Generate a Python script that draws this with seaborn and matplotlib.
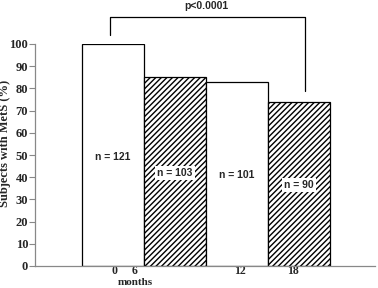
import matplotlib
matplotlib.use('Agg')
import matplotlib.pyplot as plt
import seaborn as sns
import pandas as pd

# data
months = ['0', '6', '12', '18']
pct = [100, 85, 83, 74]
n_labels = ['n = 121', 'n = 103', 'n = 101', 'n = 90']
n_label_y = [49, 42, 41, 36.5]
hatched = [False, True, False, True]
tick_pos = [0.02, 0.35, 2.05, 2.9]

df = pd.DataFrame({'month': months, 'pct': pct})

sns.set_style('white')
fig = plt.figure(figsize=(3.78, 2.88), dpi=100)
ax = fig.add_axes([35 / 378, 22 / 288, 340 / 378, 222 / 288])

sns.barplot(data=df, x='month', y='pct', order=months, width=1.0,
            color='white', edgecolor='black', linewidth=0.9, ax=ax)
for bar, h in zip(ax.patches, hatched):
    bar.set_facecolor('white')
    if h:
        bar.set_hatch('//////')

for i, (lab, y, h) in enumerate(zip(n_labels, n_label_y, hatched)):
    bbox = dict(facecolor='white', edgecolor='none', pad=1.5) if h else None
    ax.text(i, y, lab, ha='center', va='center', fontsize=7.5,
            fontweight='bold', family='Liberation Sans', bbox=bbox)

# significance bracket
ax.plot([-0.05, -0.05, 3.1, 3.1], [104, 112, 112, 79], color='black',
        lw=0.9, clip_on=False)
ax.text(1.5, 117, 'p<0.0001', ha='center', va='center', fontsize=7.5,
        fontweight='bold', family='Liberation Sans', clip_on=False)

ax.set_xlim(-1.258, 4.226)
ax.set_ylim(0, 100)
ax.set_yticks(range(0, 101, 10))
ax.set_xticks(tick_pos)
ax.set_xticklabels(months)
for lab in ax.get_xticklabels() + ax.get_yticklabels():
    lab.set_fontfamily('Liberation Serif')
    lab.set_fontweight('bold')
    lab.set_fontsize(9)
for lab in ax.get_xticklabels():
    lab.set_fontsize(8.5)
ax.tick_params(axis='y', length=4, width=0.8, color='#888888', pad=1, left=True)
ax.tick_params(axis='x', length=0, pad=-1)

ax.set_xlabel('months', fontsize=8, fontweight='bold', family='Liberation Serif')
ax.xaxis.set_label_coords(0.294, -0.052)
ax.set_ylabel('Subjects with MetS (%)', fontsize=9, fontweight='bold',
              family='Liberation Serif')
ax.yaxis.set_label_coords(-0.072, 0.554)

sns.despine(ax=ax)
for s in ['left', 'bottom']:
    ax.spines[s].set_color('#888888')
    ax.spines[s].set_linewidth(0.9)

fig.savefig('out.png', dpi=100)
